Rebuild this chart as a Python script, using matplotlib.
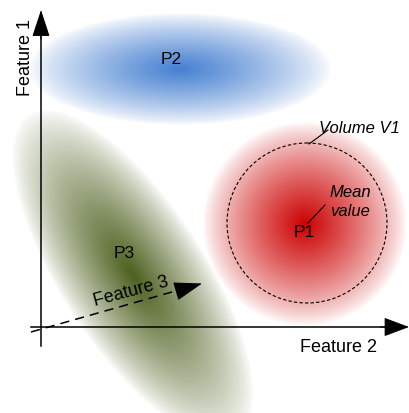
import numpy as np
import matplotlib
matplotlib.use("Agg")
import matplotlib.pyplot as plt
from matplotlib.patches import Circle, FancyArrowPatch

plt.rcParams['font.family'] = ['Liberation Sans', 'DejaVu Sans']

# Blob (cluster) definitions, in pixel coordinates of the diagram
blob_names = ["P1", "P2", "P3"]
blob_cx = [305, 180, 133]
blob_cy = [225, 70, 276]
blob_rx = [102, 152, 192]
blob_ry = [102, 56, 72]
blob_angle = [0, 0, 57]          # degrees, rotation (clockwise on screen)
blob_rgb = [(0.80, 0.0, 0.0), (0.27, 0.50, 0.82), (0.30, 0.38, 0.12)]

label_x = [304, 171, 124]
label_y = [233, 59, 254]

W, H = 409, 414
fig = plt.figure(figsize=(W / 100, H / 100), dpi=100)
ax = fig.add_axes([0, 0, 1, 1])
ax.set_xlim(0, W)
ax.set_ylim(H, 0)
ax.axis('off')

yy, xx = np.mgrid[0:H, 0:W] + 0.5
for cx, cy, rx, ry, ang, rgb in zip(blob_cx, blob_cy, blob_rx, blob_ry, blob_angle, blob_rgb):
    t = np.deg2rad(ang)
    dx, dy = xx - cx, yy - cy
    u = dx * np.cos(t) + dy * np.sin(t)
    v = -dx * np.sin(t) + dy * np.cos(t)
    r = np.sqrt((u / rx) ** 2 + (v / ry) ** 2)
    a = np.clip(1 - r, 0, 1) ** 0.8
    img = np.zeros((H, W, 4))
    img[..., 0], img[..., 1], img[..., 2] = rgb
    img[..., 3] = a
    ax.imshow(img, extent=(0, W, H, 0), interpolation='bilinear', zorder=1)

for name, lx, ly in zip(blob_names, label_x, label_y):
    ax.text(lx, ly, name, fontsize=12.5, ha='center', va='center', zorder=5)

head = '-|>,head_length=8.5,head_width=2.8'
# Axes arrows
ax.plot([41, 41], [347, 25], color='black', lw=1.1, zorder=4)
ax.add_patch(FancyArrowPatch((41, 40), (41, 11), arrowstyle=head,
                             color='black', lw=0.8, mutation_scale=2, zorder=4,
                             shrinkA=0, shrinkB=0))
ax.plot([31, 395], [328, 328], color='black', lw=1.1, zorder=4)
ax.add_patch(FancyArrowPatch((380, 328), (409, 328), arrowstyle='-|>,head_length=8,head_width=3',
                             color='black', lw=0.8, mutation_scale=2, zorder=4,
                             shrinkA=0, shrinkB=0))
# Feature 3 dashed arrow
ax.plot([31, 186], [333, 289], color='black', lw=1.1, ls=(0, (6, 4)), zorder=4)
ax.add_patch(FancyArrowPatch((180, 291), (202, 284.5), arrowstyle='-|>,head_length=9,head_width=3',
                             color='black', lw=0.8, mutation_scale=2, zorder=4,
                             shrinkA=0, shrinkB=0))

ax.text(25, 57, "Feature 1", fontsize=13, rotation=90, ha='center', va='center', zorder=5)
ax.text(339, 348, "Feature 2", fontsize=13, ha='center', va='center', zorder=5)
ax.text(131, 292, "Feature 3", fontsize=13, rotation=15, ha='center', va='center', zorder=5)

# Volume circle
ax.add_patch(Circle((307, 224), 80, fill=False, ls=(0, (3, 2)), lw=0.8, color='black', zorder=4))
ax.plot([309, 328], [145, 131], color='black', lw=0.8, zorder=4)
ax.text(359, 129, "Volume V1", fontsize=12, style='italic', ha='center', va='center', zorder=5)
ax.plot([308, 325], [224, 206], color='black', lw=0.8, zorder=4)
ax.text(350, 193, "Mean", fontsize=12, style='italic', ha='center', va='center', zorder=5)
ax.text(350, 212, "value", fontsize=12, style='italic', ha='center', va='center', zorder=5)

fig.savefig("out.png", dpi=100)
